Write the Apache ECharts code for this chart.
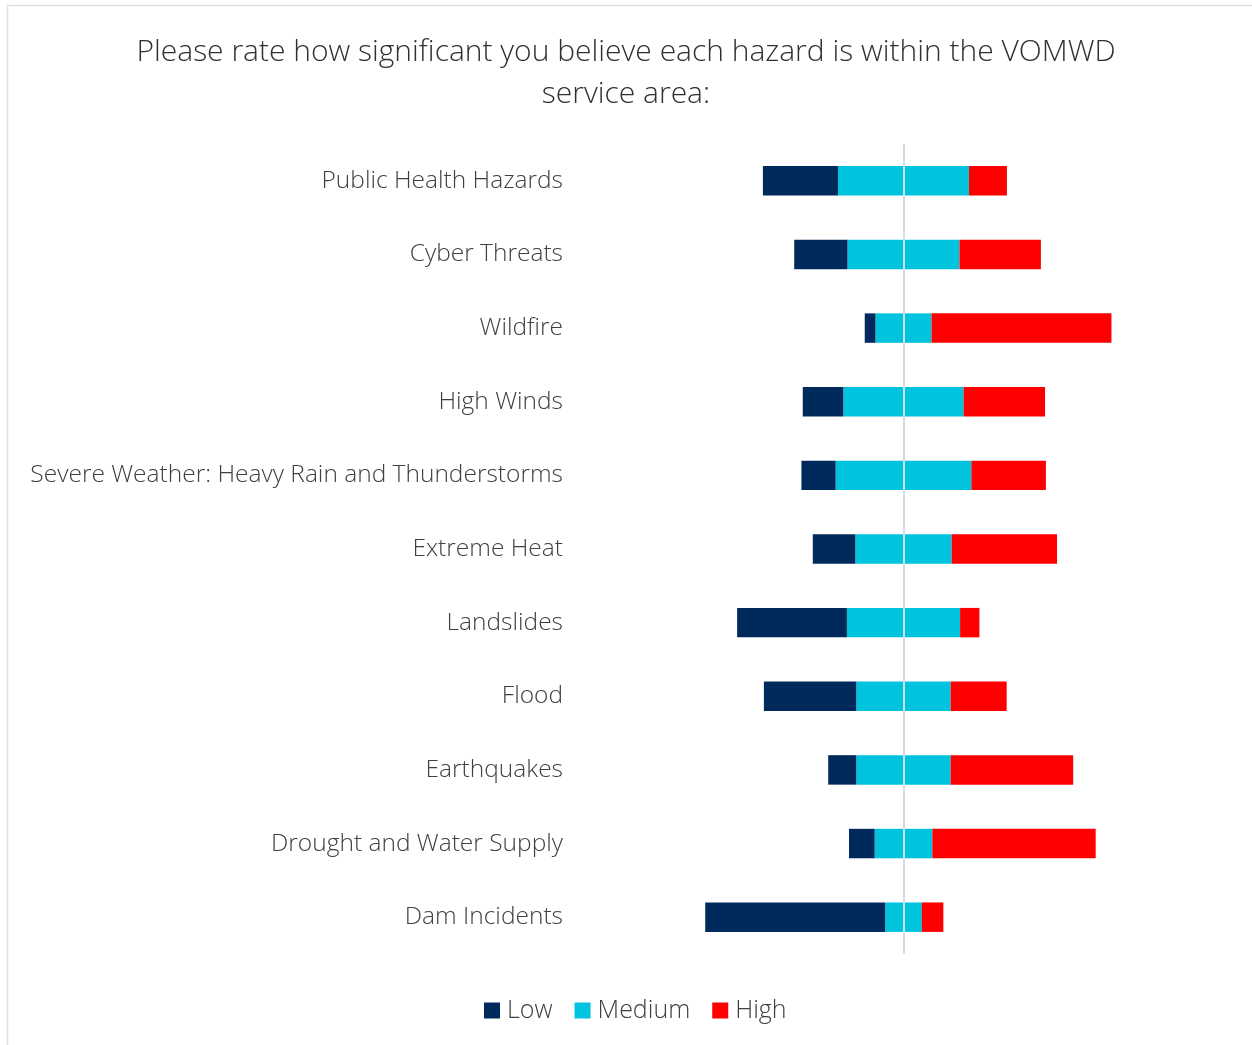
<!DOCTYPE html>
<html>
<head>
<meta charset="utf-8">
<script src="https://cdn.jsdelivr.net/npm/echarts@6/dist/echarts.min.js"></script>
<style>
  html, body { margin: 0; padding: 0; background: #fff; }
  #main { width: 1252px; height: 1045px; }
</style>
</head>
<body>
<div id="main"></div>
<script>
// hazards, top to bottom
var hazards = ['Public Health Hazards', 'Cyber Threats', 'Wildfire', 'High Winds',
  'Severe Weather: Heavy Rain and Thunderstorms', 'Extreme Heat', 'Landslides',
  'Flood', 'Earthquakes', 'Drought and Water Supply', 'Dam Incidents'];
// share of answers (%)
var lowValues    = [30.7, 21.8,  4.4, 16.6, 14.0, 17.4, 44.9, 37.8, 11.5, 10.5, 73.6];
var mediumValues = [53.6, 45.8, 22.9, 49.2, 55.5, 39.4, 46.3, 38.6, 38.6, 23.6, 15.0];
var highValues   = [15.5, 33.3, 73.6, 33.3, 30.5, 43.1,  7.9, 22.9, 50.1, 66.8,  8.8];

var chart = echarts.init(document.getElementById('main'));

// medium is split around zero, low goes left, high goes right
var medLeft = mediumValues.map(function (v) { return -v / 2; });
var medRight = mediumValues.map(function (v) { return v / 2; });
var lowLeft = lowValues.map(function (v) { return -v; });

var font = '"Open Sans", "Noto Sans", sans-serif';
var colLow = '#002a5c', colMed = '#00c4de', colHigh = '#ff0000';

var option = {
  backgroundColor: '#fff',
  title: {
    text: 'Please rate how significant you believe each hazard is within the VOMWD\nservice area:',
    left: 'center',
    top: 26,
    textStyle: { fontFamily: font, fontWeight: 300, fontSize: 30, lineHeight: 42, color: '#303030' }
  },
  graphic: [{
    type: 'rect',
    shape: { x: 7.5, y: 5.5, width: 1300, height: 1100 },
    style: { fill: 'none', stroke: '#d9e1ea', lineWidth: 1.5 },
    silent: true
  }],
  legend: {
    data: ['Low', 'Medium', 'High'],
    bottom: 17,
    left: 479,
    itemWidth: 16,
    itemHeight: 16,
    itemGap: 22,
    icon: 'rect',
    textStyle: { fontFamily: font, fontWeight: 300, fontSize: 25, color: '#404040', padding: [0, 0, 0, 2] }
  },
  grid: { left: 659, width: 489, top: 144, height: 810, containLabel: false },
  xAxis: {
    type: 'value',
    min: -100,
    max: 100,
    show: false
  },
  yAxis: {
    type: 'category',
    data: hazards,
    inverse: true,
    axisLine: { show: false, onZero: false },
    axisTick: { show: false },
    axisLabel: { margin: 96, fontFamily: font, fontWeight: 300, fontSize: 24.5, color: '#404040', padding: [4, 0, 0, 0] }
  },
  series: [
    {
      name: 'Medium', type: 'bar', stack: 'a', data: medLeft, barWidth: '40%',
      itemStyle: { color: colMed },
      markLine: {
        silent: true, symbol: 'none', label: { show: false },
        lineStyle: { color: '#d3dde8', width: 2, type: 'solid' },
        data: [{ xAxis: 0 }]
      },
      z: 2
    },
    { name: 'Low', type: 'bar', stack: 'a', data: lowLeft, itemStyle: { color: colLow } },
    { name: 'Medium', type: 'bar', stack: 'a', data: medRight, itemStyle: { color: colMed } },
    { name: 'High', type: 'bar', stack: 'a', data: highValues, itemStyle: { color: colHigh } }
  ]
};
chart.setOption(option);
</script>
</body>
</html>
